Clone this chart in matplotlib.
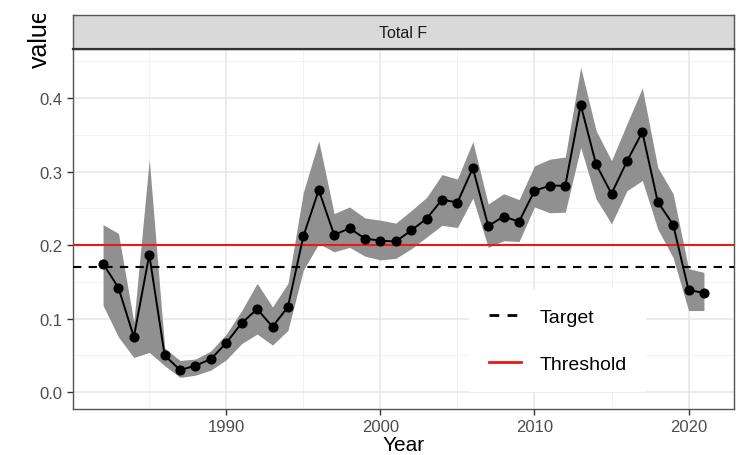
import matplotlib
matplotlib.use("Agg")
import matplotlib.pyplot as plt
from matplotlib.lines import Line2D
from matplotlib.patches import Rectangle
from matplotlib.ticker import MultipleLocator

plt.rcParams["font.family"] = ["Liberation Sans", "DejaVu Sans"]

years = list(range(1982, 2022))
f_est = [0.175, 0.142, 0.075, 0.187, 0.050, 0.030, 0.036, 0.045, 0.067, 0.094,
         0.113, 0.089, 0.116, 0.212, 0.275, 0.214, 0.223, 0.209, 0.206, 0.205,
         0.220, 0.236, 0.262, 0.258, 0.305, 0.226, 0.239, 0.232, 0.274, 0.281,
         0.281, 0.391, 0.310, 0.270, 0.314, 0.354, 0.259, 0.228, 0.139, 0.135]
f_upper = [0.228, 0.216, 0.095, 0.317, 0.060, 0.043, 0.045, 0.056, 0.079, 0.111,
           0.148, 0.116, 0.148, 0.272, 0.342, 0.243, 0.252, 0.237, 0.234, 0.230,
           0.247, 0.265, 0.296, 0.290, 0.341, 0.256, 0.270, 0.262, 0.308, 0.317,
           0.320, 0.442, 0.356, 0.315, 0.365, 0.414, 0.306, 0.270, 0.168, 0.163]
f_lower = [0.118, 0.075, 0.047, 0.054, 0.036, 0.020, 0.023, 0.030, 0.044, 0.066,
           0.079, 0.064, 0.084, 0.166, 0.202, 0.191, 0.197, 0.185, 0.180, 0.182,
           0.195, 0.211, 0.227, 0.224, 0.264, 0.197, 0.206, 0.205, 0.252, 0.244,
           0.245, 0.333, 0.263, 0.229, 0.274, 0.288, 0.222, 0.183, 0.111, 0.111]
target = 0.17
threshold = 0.2
panel_title = "Total F"

fig = plt.figure(figsize=(7.44, 4.56), dpi=100)
ax = fig.add_axes([73 / 744, 1 - 410 / 456, 661 / 744, 360 / 456])

# ribbon + line
ax.fill_between(years, f_lower, f_upper, color="#909090", lw=0, zorder=2)
ax.plot(years, f_est, color="black", lw=1.4, marker="o", ms=6.3, zorder=4)

ax.axhline(target, color="black", lw=1.5, ls=(0, (4, 3.5)), zorder=3)
ax.axhline(threshold, color="#e41a1c", lw=1.5, zorder=3)

ax.set_xlim(1980.05, 2022.95)
ax.set_ylim(-0.023, 0.467)
ax.xaxis.set_minor_locator(MultipleLocator(5))
ax.yaxis.set_minor_locator(MultipleLocator(0.05))
ax.set_xticks([1990, 2000, 2010, 2020])
ax.set_yticks([0.0, 0.1, 0.2, 0.3, 0.4])
ax.set_yticklabels(["0.0", "0.1", "0.2", "0.3", "0.4"])

ax.grid(which="major", color="#e6e6e6", lw=1.1, zorder=0)
ax.grid(which="minor", color="#f0f0f0", lw=0.6, zorder=0)
ax.set_axisbelow(True)
ax.tick_params(which="major", length=4, width=1, color="#333333",
               labelcolor="#4d4d4d", labelsize=12)
ax.tick_params(which="minor", length=0)
for s in ax.spines.values():
    s.set_color("#555555")
    s.set_linewidth(1)

# legend inside the panel
handles = [
    Line2D([], [], color="black", lw=2, ls=(0, (3.5, 3))),
    Line2D([], [], color="#e41a1c", lw=2),
]
leg = ax.legend(handles, ["Target", "Threshold"], loc="center",
                bbox_to_anchor=(0.733, 0.19), fontsize=14, frameon=True,
                facecolor="white", edgecolor="none", framealpha=1,
                handlelength=1.65, handletextpad=0.95, labelspacing=1.5,
                borderpad=1.0, fancybox=False)
leg.set_zorder(5)

# facet strip
strip = fig.add_axes([73 / 744, 1 - 50 / 456, 661 / 744, 34 / 456])
strip.set_facecolor("#d9d9d9")
strip.set_xticks([])
strip.set_yticks([])
for s in strip.spines.values():
    s.set_color("#555555")
    s.set_linewidth(1)
strip.spines["bottom"].set_color("#333333")
strip.spines["bottom"].set_linewidth(1.6)
strip.text(0.5, 0.5, panel_title, ha="center", va="center",
           fontsize=11.5, color="#1a1a1a", transform=strip.transAxes)

# axis titles
fig.text(40 / 744, 1 - 68 / 456, "value", rotation=90, ha="center",
         va="bottom", fontsize=18, color="black")
fig.text(404 / 744, 1 - 455.5 / 456, "Year", ha="center", va="bottom",
         fontsize=15, color="black")

# the source image is cropped just above the y title
fig.add_artist(Rectangle((0, 1 - 15 / 456), 70 / 744, 15 / 456,
                         transform=fig.transFigure, facecolor="white",
                         edgecolor="none", zorder=10))

fig.savefig("out.png", dpi=100)
